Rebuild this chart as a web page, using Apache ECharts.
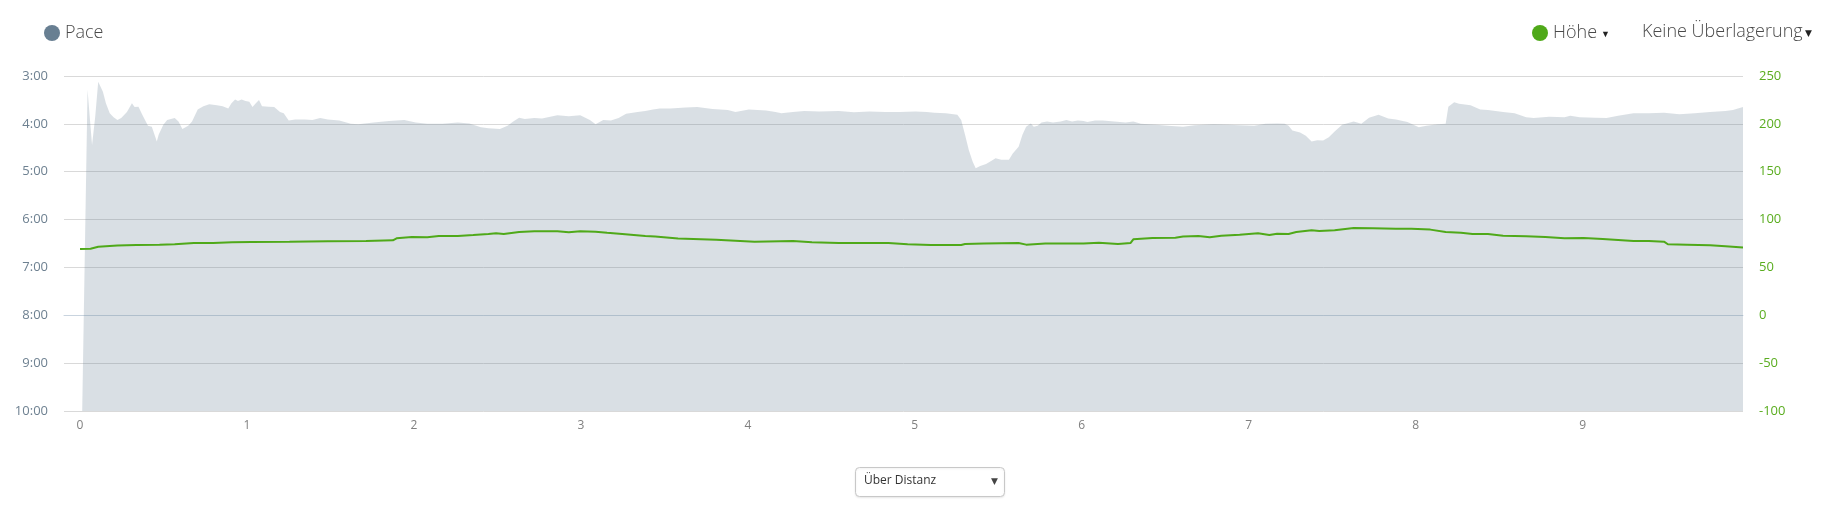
<!DOCTYPE html>
<html>
<head>
<meta charset="utf-8">
<script src="https://cdn.jsdelivr.net/npm/echarts@6/dist/echarts.min.js"></script>
<style>
html,body{margin:0;padding:0;background:#fff;}
#chart{width:1821px;height:505px;}
</style>
</head>
<body>
<div id="chart"></div>
<script>
// ---- data (distance in km, pace in decimal minutes/km, elevation in m) ----
const xTickValues = [0, 1, 2, 3, 4, 5, 6, 7, 8, 9];
const paceTicks = [3, 4, 5, 6, 7, 8, 9, 10];
const elevationTicks = [-100, -50, 0, 50, 100, 150, 200, 250];

const paceKm = [
  0.013, 0.045, 0.054, 0.072, 0.091, 0.109, 0.118, 0.137, 0.155, 0.178, 0.201, 0.224, 0.247, 0.281, 0.311, 0.327,
  0.350, 0.373, 0.407, 0.430, 0.441, 0.460, 0.471, 0.499, 0.522, 0.567, 0.590, 0.613, 0.648, 0.671, 0.705, 0.739,
  0.774, 0.820, 0.854, 0.888, 0.907, 0.929, 0.946, 0.968, 0.991, 1.014, 1.033, 1.053, 1.072, 1.090, 1.129, 1.163,
  1.198, 1.220, 1.250, 1.289, 1.347, 1.392, 1.438, 1.484, 1.553, 1.622, 1.667, 1.759, 1.851, 1.942, 2.011, 2.080,
  2.171, 2.263, 2.332, 2.401, 2.446, 2.515, 2.561, 2.595, 2.630, 2.664, 2.721, 2.767, 2.859, 2.928, 2.996, 3.054,
  3.088, 3.134, 3.180, 3.226, 3.271, 3.340, 3.386, 3.432, 3.473, 3.536, 3.628, 3.697, 3.788, 3.880, 3.926, 4.006,
  4.109, 4.166, 4.201, 4.270, 4.338, 4.430, 4.545, 4.636, 4.728, 4.820, 4.911, 5.003, 5.072, 5.117, 5.186, 5.255,
  5.278, 5.301, 5.324, 5.347, 5.365, 5.392, 5.427, 5.450, 5.484, 5.518, 5.564, 5.587, 5.622, 5.645, 5.667, 5.695,
  5.713, 5.736, 5.759, 5.793, 5.828, 5.874, 5.908, 5.942, 5.977, 6.011, 6.034, 6.080, 6.126, 6.195, 6.263, 6.309,
  6.355, 6.446, 6.515, 6.607, 6.676, 6.790, 6.882, 6.946, 7.033, 7.101, 7.170, 7.216, 7.239, 7.262, 7.308, 7.342,
  7.377, 7.411, 7.446, 7.480, 7.515, 7.560, 7.629, 7.675, 7.721, 7.778, 7.836, 7.882, 7.951, 8.019, 8.065, 8.134,
  8.180, 8.196, 8.231, 8.260, 8.329, 8.387, 8.433, 8.524, 8.593, 8.662, 8.708, 8.800, 8.892, 8.926, 8.983, 9.075,
  9.144, 9.213, 9.305, 9.397, 9.488, 9.580, 9.672, 9.764, 9.856, 9.901, 9.961
];
const paceValues = [
  10.0, 3.29, 3.33, 4.44, 3.85, 3.12, 3.14, 3.33, 3.57, 3.78, 3.86, 3.92, 3.88, 3.75, 3.57, 3.65,
  3.64, 3.81, 4.04, 4.06, 4.09, 4.37, 4.23, 4.02, 3.92, 3.88, 3.95, 4.11, 4.04, 3.95, 3.70, 3.63,
  3.59, 3.61, 3.63, 3.68, 3.57, 3.49, 3.52, 3.49, 3.52, 3.54, 3.65, 3.57, 3.50, 3.63, 3.64, 3.65,
  3.75, 3.78, 3.93, 3.91, 3.91, 3.92, 3.88, 3.91, 3.93, 4.00, 4.01, 3.97, 3.94, 3.92, 3.97, 4.00,
  4.00, 3.97, 3.99, 4.07, 4.09, 4.11, 4.04, 3.95, 3.87, 3.90, 3.88, 3.89, 3.82, 3.84, 3.82, 3.92,
  4.01, 3.92, 3.93, 3.88, 3.79, 3.75, 3.73, 3.70, 3.68, 3.68, 3.66, 3.65, 3.69, 3.71, 3.75, 3.70,
  3.72, 3.75, 3.78, 3.75, 3.73, 3.74, 3.73, 3.76, 3.74, 3.75, 3.75, 3.74, 3.75, 3.77, 3.78, 3.81,
  3.92, 4.23, 4.55, 4.79, 4.93, 4.88, 4.84, 4.79, 4.72, 4.75, 4.75, 4.62, 4.48, 4.23, 4.06, 3.99,
  4.06, 4.04, 3.97, 3.95, 3.97, 3.95, 3.92, 3.95, 3.93, 3.94, 3.96, 3.93, 3.93, 3.95, 3.97, 3.95,
  4.00, 4.02, 4.04, 4.06, 4.03, 4.01, 4.02, 4.03, 4.04, 4.00, 3.99, 4.00, 4.04, 4.14, 4.18, 4.25,
  4.37, 4.34, 4.35, 4.28, 4.16, 4.02, 3.95, 4.00, 3.87, 3.81, 3.89, 3.91, 3.96, 4.07, 4.04, 4.01,
  4.00, 3.64, 3.55, 3.58, 3.61, 3.70, 3.71, 3.75, 3.78, 3.86, 3.88, 3.85, 3.86, 3.83, 3.86, 3.87,
  3.88, 3.83, 3.78, 3.78, 3.77, 3.80, 3.78, 3.75, 3.73, 3.71, 3.65
];

const elevationKm = [
  0.000, 0.063, 0.109, 0.224, 0.338, 0.476, 0.567, 0.682, 0.797, 0.911, 1.026, 1.255, 1.484, 1.713, 1.874, 1.896,
  1.988, 2.080, 2.149, 2.263, 2.355, 2.446, 2.492, 2.538, 2.630, 2.721, 2.859, 2.928, 2.996, 3.088, 3.157, 3.248,
  3.317, 3.386, 3.445, 3.582, 3.811, 4.040, 4.270, 4.384, 4.545, 4.842, 4.957, 5.095, 5.278, 5.301, 5.415, 5.622,
  5.667, 5.782, 6.011, 6.103, 6.217, 6.293, 6.309, 6.424, 6.561, 6.607, 6.699, 6.767, 6.836, 6.946, 7.056, 7.124,
  7.170, 7.239, 7.285, 7.377, 7.423, 7.515, 7.629, 7.744, 7.882, 7.974, 8.088, 8.180, 8.272, 8.341, 8.433, 8.524,
  8.662, 8.777, 8.892, 9.006, 9.121, 9.213, 9.305, 9.397, 9.488, 9.511, 9.626, 9.764, 9.856, 9.961
];
const elevationValues = [
  69.3, 69.6, 71.7, 72.8, 73.5, 73.8, 74.2, 75.6, 75.6, 76.2, 76.6, 76.9, 77.3, 77.6, 78.3, 80.4,
  81.8, 81.5, 82.9, 82.9, 83.9, 85.0, 85.6, 85.0, 87.0, 87.7, 87.7, 86.7, 87.7, 87.4, 86.3, 85.0,
  83.9, 82.8, 82.2, 80.1, 79.0, 76.9, 77.6, 76.2, 75.6, 75.6, 74.2, 73.5, 73.5, 74.5, 74.9, 75.6,
  73.8, 74.9, 74.9, 75.9, 74.5, 75.6, 79.4, 80.8, 81.1, 82.2, 82.9, 81.5, 83.2, 84.2, 85.6, 83.9,
  85.3, 85.0, 87.0, 88.8, 88.1, 88.8, 91.2, 90.9, 90.5, 90.5, 89.5, 87.0, 86.3, 85.0, 85.0, 83.2,
  82.5, 81.8, 80.4, 80.8, 79.7, 78.7, 77.6, 77.6, 76.9, 74.2, 73.8, 73.1, 72.1, 70.7
];

const paceData = paceKm.map((k, i) => [k, paceValues[i]]);
const elevationData = elevationKm.map((k, i) => [k, elevationValues[i]]);

const FONT = "'Open Sans', 'Noto Sans', sans-serif";
const PACE_COLOR = '#687f92';
const GREEN = '#4fa919';

function fmtPace(v) {
  const m = Math.floor(v);
  const s = Math.round((v - m) * 60);
  return m + ':' + (s < 10 ? '0' + s : s);
}

const chart = echarts.init(document.getElementById('chart'), null, { renderer: 'canvas' });
chart.setOption({
  animation: false,
  backgroundColor: '#ffffff',
  textStyle: { fontFamily: FONT },
  grid: { left: 64, right: 78, top: 76, bottom: 94, containLabel: false },
  legend: [
    {
      data: ['Pace'], left: 44, top: 24, padding: 0, icon: 'circle', itemWidth: 16, itemHeight: 16,
      selectedMode: false,
      textStyle: { fontFamily: FONT, fontSize: 18, fontWeight: 300, color: '#4a4a4a' }
    },
    {
      data: ['Höhe'], left: 1532, top: 24, padding: 0, icon: 'circle', itemWidth: 16, itemHeight: 16,
      selectedMode: false,
      formatter: name => name + '{a|▼}',
      textStyle: {
        fontFamily: FONT, fontSize: 18, fontWeight: 300, color: '#4a4a4a',
        rich: { a: { fontSize: 9, color: '#222', padding: [2, 0, 0, 4] } }
      }
    }
  ],
  xAxis: {
    type: 'value', min: -0.096, max: 9.961,
    axisLine: { show: true, lineStyle: { color: '#c9d4df', width: 1 } },
    axisTick: { show: false },
    splitLine: { show: false },
    axisLabel: {
      customValues: xTickValues, margin: 9, color: '#808080', fontSize: 12, fontFamily: FONT,
      formatter: v => String(v)
    }
  },
  yAxis: [
    {
      type: 'value', inverse: true, min: paceTicks[0], max: paceTicks[paceTicks.length - 1], interval: 1,
      axisLine: { show: false }, axisTick: { show: false },
      splitLine: { show: true, lineStyle: { color: '#d9d9d9', width: 1 } },
      axisLabel: { margin: 16, color: '#6e8191', fontSize: 13, fontFamily: FONT, formatter: fmtPace }
    },
    {
      type: 'value', min: elevationTicks[0], max: elevationTicks[elevationTicks.length - 1], interval: 50,
      axisLine: { show: false }, axisTick: { show: false }, splitLine: { show: false },
      axisLabel: { margin: 16, color: '#5aad1f', fontSize: 13, fontFamily: FONT }
    }
  ],
  series: [
    {
      name: 'Pace', type: 'line', yAxisIndex: 0, data: paceData,
      showSymbol: false, symbol: 'none', smooth: false,
      itemStyle: { color: PACE_COLOR },
      lineStyle: { width: 0, opacity: 0 },
      areaStyle: { color: PACE_COLOR, opacity: 0.25, origin: 'end' },
      z: 1
    },
    {
      name: 'Höhe', type: 'line', yAxisIndex: 1, data: elevationData,
      showSymbol: false, symbol: 'none', smooth: false,
      itemStyle: { color: GREEN },
      lineStyle: { color: GREEN, width: 2 },
      z: 3
    }
  ],
  graphic: [
    {
      type: 'text', left: 1642, top: 23,
      style: { text: 'Keine Überlagerung', font: "300 18px 'Open Sans', sans-serif", fill: '#4a4a4a' }
    },
    {
      type: 'text', left: 1805, top: 29,
      style: { text: '▼', font: "9px 'DejaVu Sans', sans-serif", fill: '#222' }
    },
    {
      type: 'rect', shape: { x: 855.5, y: 467.5, width: 149, height: 29, r: 4 },
      style: { fill: '#fff', stroke: '#c8c8c8', lineWidth: 1, shadowBlur: 2, shadowColor: 'rgba(0,0,0,0.08)', shadowOffsetY: 1 }
    },
    {
      type: 'text', left: 864, top: 475,
      style: { text: 'Über Distanz', font: "12px 'Open Sans', sans-serif", fill: '#333' }
    },
    {
      type: 'text', left: 991, top: 477,
      style: { text: '▼', font: "9px 'DejaVu Sans', sans-serif", fill: '#444' }
    }
  ]
});
</script>
</body>
</html>
